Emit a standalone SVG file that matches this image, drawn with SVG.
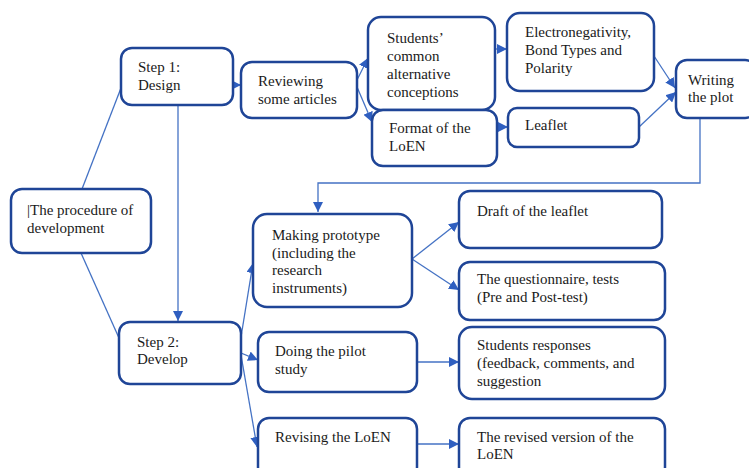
<svg xmlns="http://www.w3.org/2000/svg" width="749" height="468" viewBox="0 0 749 468">
<defs>
<style>
.n rect{fill:#fff;stroke:#1f4597;stroke-width:2.5}
.n text{font-size:15px;fill:#1a1a1a}
.c path,.c line{fill:none;stroke:#4472c4;stroke-width:1.3}
</style>
<marker id="a" viewBox="0 0 10 10" refX="10" refY="5" markerWidth="10" markerHeight="10" markerUnits="userSpaceOnUse" orient="auto">
<path d="M0,0 L10,5 L0,10 Z" fill="#2f5fc0"/>
</marker>
</defs>
<rect width="749" height="468" fill="#fff"/>
<g class="c">
<line x1="82" y1="189" x2="121" y2="88"/>
<line x1="81" y1="253" x2="119" y2="338"/>
<line x1="178" y1="105" x2="178" y2="321" marker-end="url(#a)"/>
<line x1="233" y1="85" x2="241" y2="85" marker-end="url(#a)"/>
<line x1="357" y1="80" x2="368" y2="58" marker-end="url(#a)"/>
<line x1="357" y1="87" x2="372" y2="122" marker-end="url(#a)"/>
<line x1="495" y1="49" x2="507" y2="49" marker-end="url(#a)"/>
<line x1="497" y1="127" x2="508" y2="127" marker-end="url(#a)"/>
<line x1="654" y1="56" x2="675" y2="88" marker-end="url(#a)"/>
<line x1="639" y1="127" x2="676" y2="92" marker-end="url(#a)"/>
<path d="M700,118 V183 H318 V212" marker-end="url(#a)"/>
<line x1="241" y1="337" x2="253" y2="263" marker-end="url(#a)"/>
<line x1="241" y1="353" x2="258" y2="360" marker-end="url(#a)"/>
<line x1="241" y1="355" x2="257" y2="447" marker-end="url(#a)"/>
<line x1="412" y1="259" x2="459" y2="222" marker-end="url(#a)"/>
<line x1="412" y1="259" x2="459" y2="290" marker-end="url(#a)"/>
<line x1="417" y1="362" x2="459" y2="362" marker-end="url(#a)"/>
<line x1="417" y1="444" x2="459" y2="444" marker-end="url(#a)"/>
</g>
<g font-family="'Liberation Serif', 'Times New Roman', 'DejaVu Serif', serif">
<g id="procedure" class="n"><rect x="11" y="189" width="140" height="64" rx="11"/><text x="27" y="215">|The procedure of</text><text x="27" y="233">development</text></g>
<g id="step1" class="n"><rect x="121" y="48" width="112" height="57" rx="11"/><text x="138" y="72">Step 1:</text><text x="138" y="90">Design</text></g>
<g id="reviewing" class="n"><rect x="241" y="62" width="116" height="56" rx="11"/><text x="258" y="86">Reviewing</text><text x="258" y="104">some articles</text></g>
<g id="students" class="n"><rect x="368" y="17" width="127" height="93" rx="13"/><text x="387" y="43">Students’</text><text x="387" y="61">common</text><text x="387" y="79">alternative</text><text x="387" y="97">conceptions</text></g>
<g id="format" class="n"><rect x="372" y="110" width="125" height="56" rx="11"/><text x="389" y="133">Format of the</text><text x="389" y="151">LoEN</text></g>
<g id="electro" class="n"><rect x="507" y="13" width="147" height="78" rx="13"/><text x="525" y="37">Electronegativity,</text><text x="525" y="55">Bond Types and</text><text x="525" y="73">Polarity</text></g>
<g id="leaflet" class="n"><rect x="508" y="108" width="131" height="39" rx="9"/><text x="525" y="130">Leaflet</text></g>
<g id="writing" class="n"><rect x="676" y="60" width="80" height="58" rx="11"/><text x="688" y="85">Writing</text><text x="688" y="102">the plot</text></g>
<g id="prototype" class="n"><rect x="253" y="214" width="159" height="93" rx="14"/><text x="272" y="240">Making prototype</text><text x="272" y="258">(including the</text><text x="272" y="275">research</text><text x="272" y="293">instruments)</text></g>
<g id="draft" class="n"><rect x="459" y="191" width="203" height="57" rx="11"/><text x="477" y="216">Draft of the leaflet</text></g>
<g id="questionnaire" class="n"><rect x="459" y="262" width="206" height="58" rx="11"/><text x="477" y="284">The questionnaire, tests</text><text x="477" y="302">(Pre and Post-test)</text></g>
<g id="step2" class="n"><rect x="119" y="322" width="122" height="62" rx="11"/><text x="137" y="347">Step 2:</text><text x="137" y="364">Develop</text></g>
<g id="pilot" class="n"><rect x="258" y="332" width="159" height="60" rx="11"/><text x="275" y="356">Doing the pilot</text><text x="275" y="374">study</text></g>
<g id="responses" class="n"><rect x="459" y="327" width="206" height="72" rx="13"/><text x="477" y="350">Students responses</text><text x="477" y="368">(feedback, comments, and</text><text x="477" y="386">suggestion</text></g>
<g id="revising" class="n"><rect x="258" y="418" width="159" height="60" rx="11"/><text x="275" y="442">Revising the LoEN</text></g>
<g id="revised" class="n"><rect x="459" y="418" width="206" height="60" rx="11"/><text x="477" y="442">The revised version of the</text><text x="477" y="459">LoEN</text></g>
</g>
</svg>
